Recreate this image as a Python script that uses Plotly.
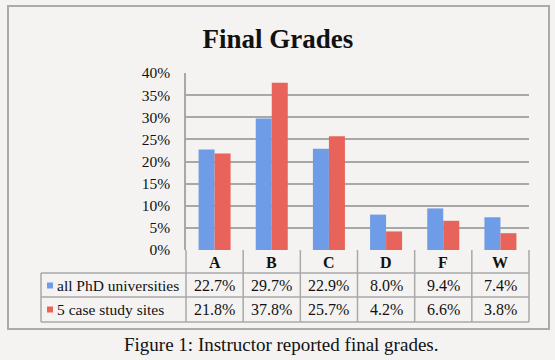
import plotly.graph_objects as go

categories = ["A", "B", "C", "D", "F", "W"]
series_names = ["all PhD universities", "5 case study sites"]
phd_values = [22.7, 29.7, 22.9, 8.0, 9.4, 7.4]
case_values = [21.8, 37.8, 25.7, 4.2, 6.6, 3.8]
y_ticks = [0, 5, 10, 15, 20, 25, 30, 35, 40]
y_tick_labels = ["0%", "5%", "10%", "15%", "20%", "25%", "30%", "35%", "40%"]
title_text = "Final Grades"
caption_text = "Figure 1: Instructor reported final grades."

BLUE = "#6f9ce6"
RED = "#e8645a"
GRID = "#a8a8a8"
BG = "#f4f3f1"
FONT = "Liberation Serif"
TXT = "#111111"

W, H = 555, 360
L, R, T, B = 186, 26, 73, 110
pw, ph = W - L - R, H - T - B


def px(x):
    return (x - L) / pw


def py(y):
    return (H - B - y) / ph


fig = go.Figure()
fig.add_trace(go.Bar(x=categories, y=phd_values, name=series_names[0],
                     marker=dict(color=BLUE, line=dict(width=0))))
fig.add_trace(go.Bar(x=categories, y=case_values, name=series_names[1],
                     marker=dict(color=RED, line=dict(width=0))))

shapes = []
ann = []

# outer frame
shapes.append(dict(type="rect", xref="paper", yref="paper",
                   x0=px(8), x1=px(549), y0=py(329), y1=py(6),
                   line=dict(color="#aaaaaa", width=2), layer="below"))

# table horizontal lines
for yy in [273, 297, 322]:
    shapes.append(dict(type="line", xref="paper", yref="paper",
                       x0=px(41), x1=1, y0=py(yy), y1=py(yy),
                       line=dict(color=GRID, width=1.5)))
# table left edge
shapes.append(dict(type="line", xref="paper", yref="paper",
                   x0=px(41), x1=px(41), y0=py(273), y1=py(322),
                   line=dict(color=GRID, width=1.5)))
# vertical category boundaries
n = len(categories)
for i in range(n + 1):
    xb = i / n
    shapes.append(dict(type="line", xref="paper", yref="paper",
                       x0=xb, x1=xb, y0=py(322), y1=0,
                       line=dict(color=GRID, width=1.5)))

# header labels
for c in categories:
    ann.append(dict(x=c, xref="x", y=py(262), yref="paper", text="<b>%s</b>" % c,
                    xanchor="center", yanchor="middle",
                    showarrow=False, font=dict(family=FONT, size=16, color=TXT)))
# values
for row_y, vals in [(285.5, phd_values), (309.5, case_values)]:
    for c, v in zip(categories, vals):
        ann.append(dict(x=c, xref="x", y=py(row_y), yref="paper", text="%.1f%%" % v,
                        xanchor="center", yanchor="middle",
                        showarrow=False, font=dict(family=FONT, size=16, color=TXT)))
# row labels with color keys
for row_y, name, col in [(285.5, series_names[0], BLUE), (309.5, series_names[1], RED)]:
    shapes.append(dict(type="rect", xref="paper", yref="paper",
                       x0=px(47), x1=px(53), y0=py(row_y + 3), y1=py(row_y - 3),
                       fillcolor=col, line=dict(width=0)))
    ann.append(dict(x=px(55), xref="paper", y=py(row_y), yref="paper", text=name,
                    xanchor="left", yanchor="middle", showarrow=False,
                    font=dict(family=FONT, size=15.5, color=TXT)))

# caption
ann.append(dict(x=px(281), xref="paper", y=py(344), yref="paper", text=caption_text,
                xanchor="center", yanchor="middle",
                showarrow=False, font=dict(family=FONT, size=19, color=TXT)))

fig.update_layout(
    width=W, height=H,
    margin=dict(l=L, r=R, t=T, b=B, pad=0),
    paper_bgcolor=BG, plot_bgcolor=BG,
    barmode="group", bargap=0.44, bargroupgap=0,
    showlegend=False,
    title=dict(text="<b>%s</b>" % title_text, x=278 / W, xanchor="center",
               y=1 - 38.5 / H, yanchor="middle", xref="container", yref="container",
               font=dict(family=FONT, size=27, color=TXT)),
    font=dict(family=FONT, size=15, color=TXT),
    shapes=shapes, annotations=ann,
)
fig.update_xaxes(showticklabels=False, showgrid=False, zeroline=False,
                 showline=False, range=[-0.5, n - 0.5])
fig.update_yaxes(range=[0, 40], tickvals=y_ticks, ticktext=y_tick_labels,
                 showgrid=True, gridcolor=GRID, gridwidth=1.5,
                 zeroline=False, showline=True, linecolor=GRID, linewidth=1.5,
                 ticks="", ticklabelstandoff=11,
                 tickfont=dict(family=FONT, size=15.5, color=TXT))

fig.write_html("out.html", config={"displayModeBar": False},
               post_script="document.body.style.margin='0';document.body.style.background='%s';" % BG)
